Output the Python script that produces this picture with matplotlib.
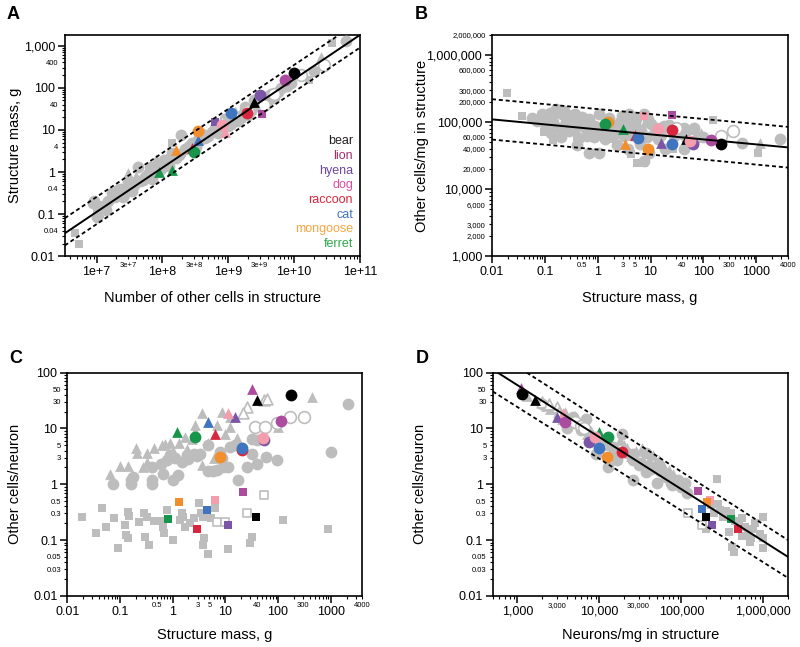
import numpy as np
import matplotlib
matplotlib.use("Agg")
import matplotlib.pyplot as plt

plt.rcParams['font.family'] = ['Liberation Sans', 'DejaVu Sans']

GRAY = '#bdbdbd'
species = ['bear', 'lion', 'hyena', 'dog', 'raccoon', 'cat', 'mongoose', 'ferret']
mark_col = {'bear': '#000000', 'lion': '#ab4c9f', 'hyena': '#7b55a8', 'dog': '#f39dad',
            'raccoon': '#d7263d', 'cat': '#3f74c0', 'mongoose': '#f28e2b', 'ferret': '#17954a'}
text_col = {'bear': '#231f20', 'lion': '#a2306f', 'hyena': '#6f47a3', 'dog': '#d94fa5',
            'raccoon': '#d7263d', 'cat': '#3f74c0', 'mongoose': '#f7a541', 'ferret': '#2da84a'}

# ---------------- panel A: other cells vs structure mass ----------------
a_circ_x = [8.7e6, 1.0e7, 1.4e7, 9.3e6, 1.26e7, 1.7e7, 2.1e7, 2.5e7, 3.0e7, 3.4e7, 4.2e7, 5.0e7,
            5.4e7, 6.8e7, 7.9e7, 8.9e7, 1.07e8, 1.26e8, 1.4e8, 1.6e8, 1.95e8, 2.2e8, 2.8e8, 3.2e8,
            4.0e8, 5.0e8, 6.3e8, 7.9e8, 8.9e8, 1.0e9, 1.26e9, 1.4e9, 1.8e9, 2.0e9, 2.5e9, 3.2e9,
            4.0e9, 5.0e9, 6.3e9, 7.9e9, 6.2e10,
            1.1e7, 1.5e7, 1.9e7, 2.3e7, 2.7e7, 3.7e7, 4.5e7, 6.0e7, 7.0e7, 9.5e7, 1.15e8, 1.3e8,
            1.8e8, 2.5e8, 3.6e8, 4.5e8, 5.6e8, 7.0e8, 1.1e9, 1.6e9, 2.2e9, 2.8e9, 3.6e9, 4.5e9,
            5.6e9, 9.0e9, 2.0e10]
a_circ_y = [0.18, 0.085, 0.126, 0.21, 0.16, 0.32, 0.37, 0.25, 0.55, 0.35, 1.3, 0.63,
            0.76, 1.3, 1.0, 1.6, 1.95, 1.4, 2.8, 2.2, 7.6, 3.5, 5.0, 4.0,
            7.9, 7.1, 11, 10, 18, 12.6, 20, 16, 35, 22, 50, 40,
            63, 56, 100, 112, 1260,
            0.15, 0.2, 0.25, 0.4, 0.32, 0.5, 0.6, 0.9, 0.7, 1.2, 1.6, 2.2,
            2.6, 4.2, 5.5, 6.3, 9, 8.5, 14, 22, 30, 36, 45, 70,
            80, 130, 250]
a_sq_x = [5.5e6, 4.7e6, 1.0e7, 3.2e7, 6.3e7, 1.4e8, 2.0e8, 4.0e8, 7.1e8, 1.6e9, 1.7e10, 3.8e10]
a_sq_y = [0.02, 0.035, 0.126, 0.45, 1.1, 4.9, 2.8, 5.6, 8.9, 18, 155, 1180]
a_tri_x = [3.0e7, 1.1e7, 4.0e7, 7.9e7, 1.6e8, 3.2e8, 6.3e8, 1.1e9, 2.2e9, 4.0e9, 2.6e10]
a_tri_y = [0.95, 0.11, 0.8, 2.0, 3.2, 7.1, 12.6, 16, 32, 50, 550]
a_ocirc_x = [1.26e10, 2.8e10, 2.0e9, 3.5e9, 5.0e9]
a_ocirc_y = [200, 350, 28, 40, 70]
a_otri_x = [7.9e8, 1.26e9]
a_otri_y = [16, 25]
a_col_sp = ['bear', 'bear', 'lion', 'lion', 'hyena', 'hyena', 'dog', 'dog', 'raccoon', 'raccoon',
            'cat', 'cat', 'mongoose', 'mongoose', 'ferret', 'ferret', 'ferret']
a_col_mk = ['o', '^', 'o', 's', 'o', 's', 'o', '^', 'o', '^', 'o', '^', 'o', '^', 'o', '^', '^']
a_col_x = [1.0e10, 2.5e9, 7.2e9, 3.2e9, 3.0e9, 6.3e8, 8.1e8, 8.9e8, 1.9e9, 2.8e8,
           1.1e9, 3.5e8, 3.5e8, 1.6e8, 3.0e8, 8.9e7, 1.4e8]
a_col_y = [230, 47, 155, 24, 68, 15, 13, 9, 25, 3.7, 25, 5.8, 9.5, 3.3, 3.0, 1.0, 1.1]
a_fit_x = [3.3e6, 1e11]
a_fit_y = [0.035, 1800]
a_up_x = [3.3e6, 4.8e10]
a_up_y = [0.08, 1800]
a_lo_x = [3.3e6, 1e11]
a_lo_y = [0.018, 900]

# ---------------- panel B: structure mass vs other cells/mg ----------------
b_circ_x = [0.058, 0.09, 0.126, 0.16, 0.21, 0.28, 0.38, 0.1, 0.19, 0.29, 0.45, 0.45, 0.69, 0.79,
            1.07, 1.66, 0.69, 1.07, 1.9, 2.6, 4.0, 4.6, 6.2, 7.4, 10, 11.5, 7.4, 17.8, 43, 66,
            43, 19, 550, 2800, 0.25, 0.63, 3.2, 2.2, 1.4, 14, 28, 100, 0.9, 5, 0.35,
            0.07, 0.11, 0.14, 0.17, 0.23, 0.32, 0.5, 0.55, 0.6, 0.85, 1.2, 1.3, 1.8, 2.4, 2.9,
            3.6, 4.2, 5.2, 6.6, 8.5, 9, 12, 16, 22, 35, 50, 80, 0.2, 0.4, 2.3, 3.8, 9.5, 0.13]
b_circ_y = [115e3, 132e3, 135e3, 155e3, 132e3, 126e3, 132e3, 93e3, 81e3, 74e3, 93e3, 58e3,
            110e3, 74e3, 132e3, 115e3, 35e3, 35e3, 74e3, 102e3, 132e3, 81e3, 47e3, 132e3,
            93e3, 66e3, 26e3, 87e3, 81e3, 81e3, 40e3, 40e3, 49e3, 56e3, 100e3, 63e3, 63e3,
            89e3, 56e3, 56e3, 63e3, 60e3, 89e3, 95e3, 76e3,
            105e3, 120e3, 100e3, 140e3, 145e3, 110e3, 120e3, 85e3, 100e3, 60e3, 75e3, 60e3,
            95e3, 70e3, 125e3, 85e3, 65e3, 110e3, 75e3, 60e3, 110e3, 70e3, 65e3, 90e3, 70e3,
            55e3, 60e3, 60e3, 45e3, 45e3, 40e3, 35e3, 70e3]
b_sq_x = [0.019, 0.037, 0.098, 0.145, 4.2, 5.6, 7.4, 27, 150, 1100, 0.4, 2.0, 60]
b_sq_y = [270e3, 123e3, 71e3, 54e3, 34e3, 24.5e3, 24.5e3, 40e3, 107e3, 35e3, 60e3, 57e3, 75e3]
b_tri_x = [89, 1200, 0.25, 3.5, 8, 45, 12]
b_tri_y = [69e3, 49e3, 115e3, 120e3, 100e3, 66e3, 85e3]
b_ocirc_x = [213, 370, 14, 30]
b_ocirc_y = [62e3, 74e3, 80e3, 82e3]
b_col_sp = ['bear', 'bear', 'lion', 'lion', 'hyena', 'hyena', 'dog', 'dog', 'dog', 'raccoon',
            'raccoon', 'cat', 'cat', 'mongoose', 'mongoose', 'mongoose', 'ferret', 'ferret']
b_col_mk = ['o', '^', 'o', 's', 'o', '^', 'o', 's', 'o', 'o', '^', 'o', 'o', 'o', '^', 'o', 'o', '^']
b_col_x = [213, 46, 137, 25, 65, 15.5, 55, 7.4, 14, 26, 5, 25, 5.9, 9, 3.3, 1.6, 1.4, 3.0]
b_col_y = [47e3, 56e3, 54e3, 126e3, 47e3, 49e3, 52e3, 123e3, 79e3, 76e3, 65e3, 47e3, 58e3,
           40e3, 47e3, 100e3, 93e3, 80e3]
b_fit_x = [0.01, 4000]
b_fit_y = [110e3, 42e3]
b_up_y = [220e3, 85e3]
b_lo_y = [55e3, 21e3]

# ---------------- panel C: structure mass vs other cells/neuron ----------------
c_tri_x = [0.066, 0.1, 0.145, 0.2, 0.21, 0.33, 0.33, 0.44, 0.63, 0.72, 0.89, 0.28, 0.79, 1.0,
           1.9, 1.74, 2.7, 2.7, 3.6, 3.6, 4.6, 7.1, 8.7, 12.3, 12.3, 16.6, 10, 100, 450, 2.3,
           1.3, 6]
c_tri_y = [1.5, 2.1, 2.1, 4.5, 3.6, 3.6, 2.5, 4.5, 5.0, 5.2, 5.5, 2.0, 3.4, 4.0,
           4.2, 7.1, 11.7, 9.0, 19, 2.2, 5.5, 11.7, 20, 10.7, 16, 6.8, 8, 10.7, 37, 6.5,
           5.6, 3.0]
c_otri_x = [26, 22, 54, 63]
c_otri_y = [24, 19, 33, 34]
c_circ_x = [0.075, 0.16, 0.16, 0.18, 0.41, 0.41, 0.66, 1.0, 1.26, 0.41, 0.79, 0.89, 1.5, 1.9,
            2.5, 2.9, 3.3, 4.6, 4.8, 5.9, 7.1, 8.9, 11.5, 8.7, 7.9, 12.3, 15.5, 17.8, 32, 40,
            32, 26, 40, 58, 95, 1000, 2150, 2.0, 1.1, 0.6]
c_circ_y = [1.0, 1.0, 1.2, 1.35, 1.0, 1.2, 1.55, 1.2, 1.48, 2.0, 2.75, 3.4, 2.5, 3.4,
            3.5, 3.2, 3.5, 5.0, 1.7, 1.7, 1.8, 2.0, 2.0, 2.95, 3.8, 4.7, 5.0, 1.2, 6.5, 6.3,
            3.5, 2.0, 2.3, 3.1, 2.75, 3.8, 27, 2.8, 3.0, 2.3]
c_ocirc_x = [37, 57, 95, 170, 315]
c_ocirc_y = [10.7, 10.7, 12.6, 16, 16]
c_sq_x = [0.019, 0.046, 0.035, 0.055, 0.078, 0.093, 0.14, 0.15, 0.126, 0.13, 0.14, 0.23, 0.29,
          0.32, 0.3, 0.36, 0.45, 0.6, 0.65, 0.69, 0.79, 1.0, 1.4, 1.5, 1.6, 1.7, 2.6, 3.2,
          3.4, 3.7, 4.0, 3.8, 4.8, 6.5, 11.5, 29, 32, 125, 890, 5.4, 2.1, 4.4]
c_sq_y = [0.26, 0.38, 0.135, 0.17, 0.25, 0.072, 0.32, 0.27, 0.19, 0.125, 0.11, 0.21, 0.3,
          0.26, 0.115, 0.083, 0.22, 0.22, 0.17, 0.135, 0.35, 0.1, 0.23, 0.3, 0.26, 0.17, 0.25,
          0.47, 0.3, 0.26, 0.107, 0.08, 0.056, 0.37, 0.07, 0.09, 0.115, 0.23, 0.16, 0.25, 0.2,
          0.3]
c_osq_x = [7, 10, 55, 26]
c_osq_y = [0.21, 0.21, 0.65, 0.31]
c_col_sp = ['bear', 'bear', 'bear', 'lion', 'lion', 'lion', 'hyena', 'hyena', 'hyena',
            'dog', 'dog', 'dog', 'raccoon', 'raccoon', 'raccoon', 'cat', 'cat', 'cat',
            'mongoose', 'mongoose', 'ferret', 'ferret', 'ferret']
c_col_mk = ['o', '^', 's', 'o', '^', 's', 'o', '^', 's', 'o', '^', 's', 'o', '^', 's',
            'o', '^', 's', 'o', 's', 'o', '^', 's']
c_col_x = [178, 40, 38, 115, 32, 22, 55, 15.5, 11.5, 53, 11.5, 6.5, 21, 6.5, 2.9,
           21, 4.8, 4.5, 8, 1.35, 2.7, 1.2, 0.83]
c_col_y = [40, 33, 0.26, 13.8, 51, 0.74, 6.2, 16, 0.19, 6.8, 19, 0.52, 4.1, 7.8, 0.16,
           4.5, 13, 0.35, 3.1, 0.49, 7.1, 8.7, 0.24]

# ---------------- panel D: neurons/mg vs other cells/neuron ----------------
d_circ_x = [2000, 4700, 5800, 6000, 6900, 10000, 12600, 14500, 16200, 18600, 21500, 25700,
            25700, 30900, 37000, 37000, 44700, 50100, 64600, 74100, 77600, 110000, 117000,
            4000, 8000, 9000, 11000, 15000, 26000, 30000, 42000, 55000, 90000, 100000]
d_circ_y = [27, 16, 11.7, 9.5, 14.5, 6.3, 2.0, 4.7, 2.75, 8, 3.6, 2.75,
            1.2, 2.45, 3.6, 1.66, 2.0, 1.07, 1.35, 1.07, 0.97, 1.07, 0.71,
            10, 6, 3.5, 6, 4, 3.5, 2.2, 1.9, 1.7, 1.2, 0.9]
d_tri_x = [1300, 2200, 3800, 5000, 6500, 18000, 20000, 37000, 40000, 54000, 60000, 80000,
           33000, 45000, 24000, 28000, 14000, 2500, 3500, 4500, 7000, 8000, 13000, 22000,
           35000, 48000, 70000]
d_tri_y = [38, 25, 20, 17, 12, 6.3, 5, 3.6, 2.75, 2.75, 2.2, 1.5,
           4.5, 3.3, 3.2, 4, 5.5, 22, 15, 13, 8, 9, 5, 4.5,
           2.5, 2.3, 1.8]
d_sq_x = [275e3, 1.0e6, 1.0e6, 980e3, 440e3, 410e3, 680e3, 550e3, 300e3, 350e3, 280e3,
          400e3, 450e3, 500e3, 600e3, 650e3, 800e3, 700e3, 380e3, 320e3, 250e3, 230e3,
          200e3, 750e3, 900e3, 550e3]
d_sq_y = [1.26, 0.26, 0.11, 0.072, 0.06, 0.076, 0.093, 0.12, 0.35, 0.33, 0.45,
          0.3, 0.22, 0.2, 0.17, 0.13, 0.2, 0.11, 0.14, 0.26, 0.3, 0.42,
          0.16, 0.16, 0.13, 0.25]
d_osq_x = [120e3, 178e3]
d_osq_y = [0.31, 0.19]
d_otri_x = [2000, 3000, 3200, 2400]
d_otri_y = [30, 24, 20, 28]
d_ocirc_x = [5000, 6000, 6500]
d_ocirc_y = [13, 11, 10]
d_col_sp = ['lion', 'bear', 'bear', 'dog', 'hyena', 'lion', 'ferret', 'ferret', 'hyena', 'dog',
            'cat', 'mongoose', 'raccoon', 'lion', 'dog', 'mongoose', 'cat', 'bear', 'hyena',
            'ferret', 'raccoon']
d_col_mk = ['^', 'o', '^', '^', '^', 'o', '^', 'o', 'o', 'o', 'o', 'o', 'o',
            's', 's', 's', 's', 's', 's', 's', 's']
d_col_x = [1100, 1120, 1650, 3550, 3000, 3800, 10000, 12600, 7400, 8900, 10000, 12300, 18600,
           158e3, 224e3, 204e3, 178e3, 200e3, 234e3, 407e3, 490e3]
d_col_y = [54, 42, 32, 19, 16, 13, 8.7, 7.1, 5.8, 7, 4.5, 3.1, 3.8,
           0.76, 0.52, 0.49, 0.36, 0.26, 0.19, 0.24, 0.16]
d_fit_x = [575, 2e6]
d_fit_y = [100, 0.05]
d_up_x = [1300, 2e6]
d_up_y = [100, 0.1]
d_lo_x = [500, 2e6]
d_lo_y = [46, 0.021]

SIZE = {'o': 72, 's': 40, '^': 60}


def draw_points(ax, groups, col_sp, col_mk, col_x, col_y):
    for mk, xs, ys, hollow in groups:
        if hollow:
            ax.scatter(xs, ys, marker=mk, s=SIZE[mk], facecolors='white', edgecolors=GRAY,
                       linewidths=1.2, zorder=3)
        else:
            ax.scatter(xs, ys, marker=mk, s=SIZE[mk], color=GRAY, linewidths=0, zorder=3)
    for sp, mk, x, y in zip(col_sp, col_mk, col_x, col_y):
        ax.scatter([x], [y], marker=mk, s=SIZE[mk], color=mark_col[sp], linewidths=0, zorder=4)


def log_axis(ax, which, lim, major, minor_labels):
    lo = int(np.floor(np.log10(lim[0])))
    hi = int(np.ceil(np.log10(lim[1])))
    minor_pos = [m * 10.0 ** e for e in range(lo, hi + 1) for m in range(2, 10)]
    minor_pos = [v for v in minor_pos if lim[0] * 0.999 <= v <= lim[1] * 1.001]
    minor_txt = []
    for v in minor_pos:
        t = ''
        for k, lab in minor_labels:
            if np.isclose(v, k):
                t = lab
        minor_txt.append(t)
    if which == 'x':
        ax.set_xscale('log')
        ax.set_xlim(lim)
        ax.set_xticks([m[0] for m in major], [m[1] for m in major])
        ax.set_xticks(minor_pos, minor_txt, minor=True)
    else:
        ax.set_yscale('log')
        ax.set_ylim(lim)
        ax.set_yticks([m[0] for m in major], [m[1] for m in major])
        ax.set_yticks(minor_pos, minor_txt, minor=True)


def style(ax):
    for s in ax.spines.values():
        s.set_linewidth(1.2)
    ax.tick_params(which='major', direction='out', length=5, width=1.1, labelsize=9, pad=2)
    ax.tick_params(which='minor', direction='out', length=2.5, width=0.8, labelsize=5.5, pad=2)


fig = plt.figure(figsize=(8, 6.47), dpi=100)
axA = fig.add_axes([0.081, 0.604, 0.369, 0.342])
axB = fig.add_axes([0.615, 0.604, 0.370, 0.342])
axC = fig.add_axes([0.084, 0.079, 0.369, 0.345])
axD = fig.add_axes([0.616, 0.079, 0.369, 0.345])

dash = (0, (2.2, 1.6))
LABEL_FS = 10.5

# A
draw_points(axA, [('s', a_sq_x, a_sq_y, False), ('^', a_tri_x, a_tri_y, False),
                  ('o', a_circ_x, a_circ_y, False), ('o', a_ocirc_x, a_ocirc_y, True),
                  ('^', a_otri_x, a_otri_y, True)],
            a_col_sp, a_col_mk, a_col_x, a_col_y)
axA.plot(a_fit_x, a_fit_y, color='black', lw=1.4, zorder=5)
axA.plot(a_up_x, a_up_y, color='black', lw=1.3, ls=dash, zorder=5)
axA.plot(a_lo_x, a_lo_y, color='black', lw=1.3, ls=dash, zorder=5)
log_axis(axA, 'x', (3.3e6, 1e11),
         [(1e7, '1e+7'), (1e8, '1e+8'), (1e9, '1e+9'), (1e10, '1e+10'), (1e11, '1e+11')],
         [(3e7, '3e+7'), (3e8, '3e+8'), (3e9, '3e+9')])
log_axis(axA, 'y', (0.01, 1800),
         [(0.01, '0.01'), (0.1, '0.1'), (1, '1'), (10, '10'), (100, '100'), (1000, '1,000')],
         [(0.04, '0.04'), (0.4, '0.4'), (4, '4'), (40, '40'), (400, '400')])
for i, sp in enumerate(species):
    axA.text(0.976, 0.52 - i * 0.0665, sp, color=text_col[sp], ha='right', va='center',
             fontsize=9, transform=axA.transAxes)
axA.set_xlabel('Number of other cells in structure', fontsize=LABEL_FS)
axA.set_ylabel('Structure mass, g', fontsize=LABEL_FS)
axA.xaxis.set_label_coords(0.5, -0.155)
axA.yaxis.set_label_coords(-0.146, 0.5)

# B
draw_points(axB, [('s', b_sq_x, b_sq_y, False), ('^', b_tri_x, b_tri_y, False),
                  ('o', b_circ_x, b_circ_y, False), ('o', b_ocirc_x, b_ocirc_y, True)],
            b_col_sp, b_col_mk, b_col_x, b_col_y)
axB.plot(b_fit_x, b_fit_y, color='black', lw=1.4, zorder=5)
axB.plot(b_fit_x, b_up_y, color='black', lw=1.3, ls=dash, zorder=5)
axB.plot(b_fit_x, b_lo_y, color='black', lw=1.3, ls=dash, zorder=5)
mass_major = [(0.01, '0.01'), (0.1, '0.1'), (1, '1'), (10, '10'), (100, '100'), (1000, '1000')]
mass_minor = [(0.5, '0.5'), (3, '3'), (5, '5'), (40, '40'), (300, '300'), (4000, '4000')]
log_axis(axB, 'x', (0.01, 4000), mass_major, mass_minor)
log_axis(axB, 'y', (1000, 2e6),
         [(1e3, '1,000'), (1e4, '10,000'), (1e5, '100,000'), (1e6, '1,000,000')],
         [(2e3, '2,000'), (3e3, '3,000'), (6e3, '6,000'), (2e4, '20,000'), (4e4, '40,000'),
          (6e4, '60,000'), (2e5, '200,000'), (3e5, '300,000'), (6e5, '600,000'),
          (2e6, '2,000,000')])
axB.set_xlabel('Structure mass, g', fontsize=LABEL_FS)
axB.set_ylabel('Other cells/mg in structure', fontsize=LABEL_FS)
axB.xaxis.set_label_coords(0.5, -0.155)
axB.yaxis.set_label_coords(-0.213, 0.5)

# C
ratio_major = [(0.01, '0.01'), (0.1, '0.1'), (1, '1'), (10, '10'), (100, '100')]
ratio_minor = [(0.03, '0.03'), (0.05, '0.05'), (0.3, '0.3'), (0.5, '0.5'), (3, '3'), (5, '5'),
               (30, '30'), (50, '50')]
draw_points(axC, [('s', c_sq_x, c_sq_y, False), ('^', c_tri_x, c_tri_y, False),
                  ('o', c_circ_x, c_circ_y, False), ('o', c_ocirc_x, c_ocirc_y, True),
                  ('^', c_otri_x, c_otri_y, True), ('s', c_osq_x, c_osq_y, True)],
            c_col_sp, c_col_mk, c_col_x, c_col_y)
log_axis(axC, 'x', (0.01, 4000), mass_major, mass_minor)
log_axis(axC, 'y', (0.01, 100), ratio_major, ratio_minor)
axC.set_xlabel('Structure mass, g', fontsize=LABEL_FS)
axC.set_ylabel('Other cells/neuron', fontsize=LABEL_FS)
axC.xaxis.set_label_coords(0.5, -0.143)
axC.yaxis.set_label_coords(-0.153, 0.5)

# D
draw_points(axD, [('s', d_sq_x, d_sq_y, False), ('^', d_tri_x, d_tri_y, False),
                  ('o', d_circ_x, d_circ_y, False), ('o', d_ocirc_x, d_ocirc_y, True),
                  ('^', d_otri_x, d_otri_y, True), ('s', d_osq_x, d_osq_y, True)],
            d_col_sp, d_col_mk, d_col_x, d_col_y)
axD.plot(d_fit_x, d_fit_y, color='black', lw=1.4, zorder=5)
axD.plot(d_up_x, d_up_y, color='black', lw=1.3, ls=dash, zorder=5)
axD.plot(d_lo_x, d_lo_y, color='black', lw=1.3, ls=dash, zorder=5)
log_axis(axD, 'x', (500, 2e6),
         [(1e3, '1,000'), (1e4, '10,000'), (1e5, '100,000'), (1e6, '1,000,000')],
         [(3e3, '3,000'), (3e4, '30,000')])
log_axis(axD, 'y', (0.01, 100), ratio_major, ratio_minor)
axD.set_xlabel('Neurons/mg in structure', fontsize=LABEL_FS)
axD.set_ylabel('Other cells/neuron', fontsize=LABEL_FS)
axD.xaxis.set_label_coords(0.5, -0.143)
axD.yaxis.set_label_coords(-0.224, 0.5)

for ax in (axA, axB, axC, axD):
    style(ax)

for lab, x, y in [('A', 0.008, 0.977), ('B', 0.518, 0.977), ('C', 0.012, 0.446), ('D', 0.52, 0.446)]:
    fig.text(x, y, lab, fontsize=13, fontweight='bold', va='center', ha='left')

fig.savefig('out.png', dpi=100)
